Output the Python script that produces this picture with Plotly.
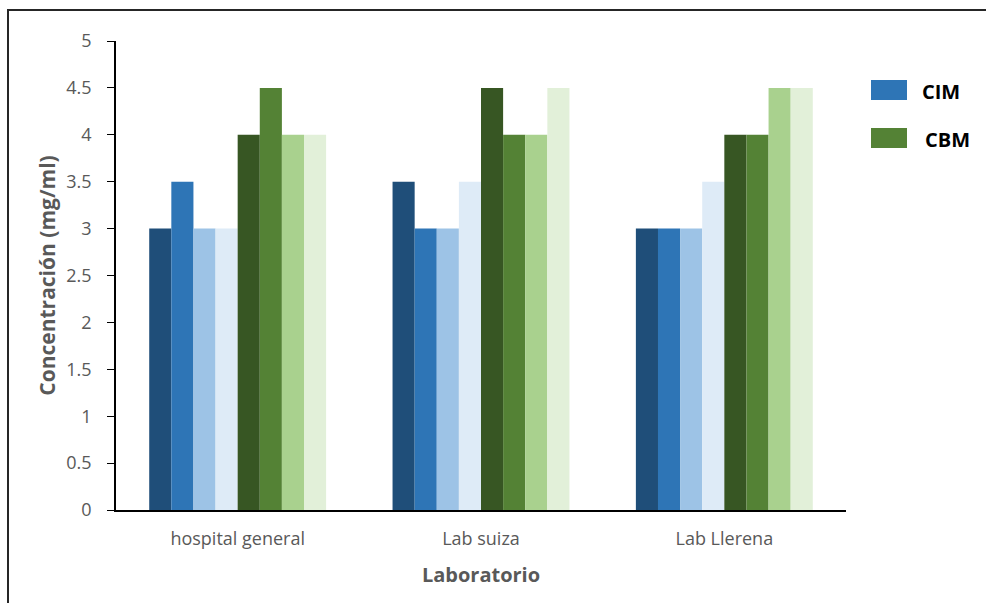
import plotly.graph_objects as go

laboratorios = ["hospital general", "Lab suiza", "Lab Llerena"]

# Eight series per laboratory: four CIM shades followed by four CBM shades
serie_1 = [3.0, 3.5, 3.0]
serie_2 = [3.5, 3.0, 3.0]
serie_3 = [3.0, 3.0, 3.0]
serie_4 = [3.0, 3.5, 3.5]
serie_5 = [4.0, 4.5, 4.0]
serie_6 = [4.5, 4.0, 4.0]
serie_7 = [4.0, 4.0, 4.5]
serie_8 = [4.0, 4.5, 4.5]

series = [serie_1, serie_2, serie_3, serie_4, serie_5, serie_6, serie_7, serie_8]
colores = ["#1F4E79", "#2E75B6", "#9DC3E6", "#DEEBF7",
           "#375623", "#548235", "#A9D18E", "#E2F0D9"]

leyenda = ["CIM", "CBM"]
colores_leyenda = ["#2E75B6", "#548235"]

W, H = 986, 603
ML, MR, MT, MB = 116, 140, 41, 93
PW, PH = W - ML - MR, H - MT - MB


def px_x(x):
    return (x - ML) / PW


def px_y(y):
    return (H - MB - y) / PH


fig = go.Figure()
for vals, col in zip(series, colores):
    fig.add_trace(go.Bar(x=laboratorios, y=vals, marker=dict(color=col, line=dict(width=0)),
                         showlegend=False))

shapes = [
    # outer frame
    dict(type="rect", xref="paper", yref="paper",
         x0=px_x(8), x1=px_x(W + 20), y0=px_y(H + 20), y1=px_y(10),
         line=dict(color="#262626", width=2), fillcolor="rgba(0,0,0,0)", layer="below"),
]
annotations = []
for i, (name, col) in enumerate(zip(leyenda, colores_leyenda)):
    top = 80 + i * 48
    shapes.append(dict(type="rect", xref="paper", yref="paper",
                       x0=px_x(871), x1=px_x(907), y0=px_y(top + 20), y1=px_y(top),
                       fillcolor=col, line=dict(width=0)))
    annotations.append(dict(xref="paper", yref="paper", x=px_x(920 + i * 3), y=px_y(top + 11),
                            text="<b>%s</b>" % name, showarrow=False, xanchor="left",
                            yanchor="middle", font=dict(size=20, color="#000000",
                                                        family="Open Sans")))

fig.update_layout(
    width=W, height=H,
    margin=dict(l=ML, r=MR, t=MT, b=MB),
    barmode="group", bargap=0.273, bargroupgap=0,
    paper_bgcolor="white", plot_bgcolor="white",
    font=dict(family="Open Sans", color="#595959", size=17),
    shapes=shapes, annotations=annotations,
    xaxis=dict(showline=True, linecolor="#000000", linewidth=1.5, ticks="",
               tickfont=dict(size=18, color="#595959"), ticklabelstandoff=12,
               title=dict(text="<b>Laboratorio</b>", font=dict(size=20, color="#595959"),
                          standoff=19)),
    yaxis=dict(range=[0, 5], dtick=0.5, showgrid=False, zeroline=False,
               showline=True, linecolor="#000000", linewidth=1.5,
               ticks="outside", ticklen=7, tickcolor="#000000", tickwidth=1.2,
               tickfont=dict(size=18, color="#595959"), ticklabelstandoff=12,
               title=dict(text="<b>Concentración (mg/ml)</b>",
                          font=dict(size=21, color="#595959"), standoff=5)),
)

fig.write_html("out.html")
